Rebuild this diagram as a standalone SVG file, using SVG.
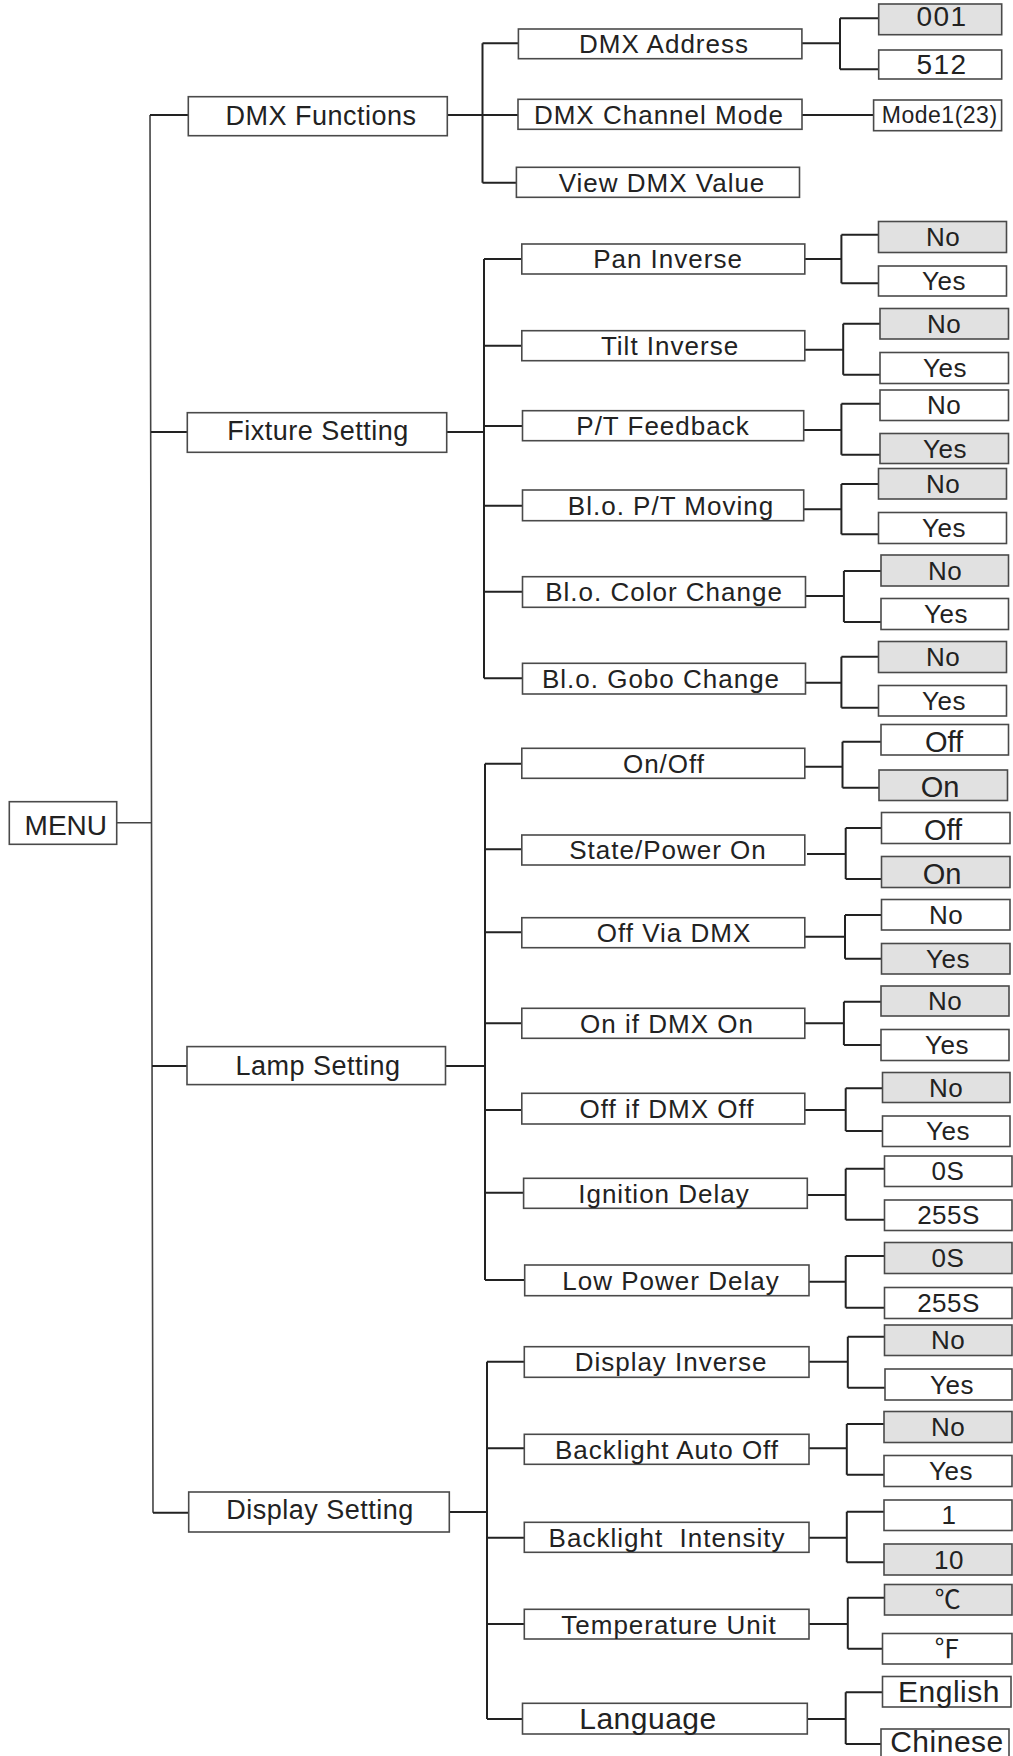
<svg xmlns="http://www.w3.org/2000/svg" width="1013" height="1756" viewBox="0 0 1013 1756">
<style>
.b{fill:#fff;stroke:#4a4a4a;stroke-width:1.6}
.s{fill:#e1e1e1}
.c{fill:none;stroke:#222;stroke-width:2}
.m{fill:none;stroke:#444;stroke-width:1.6}
text{font-family:"Liberation Sans",Arial,"Noto Sans CJK SC",sans-serif;fill:#222;text-anchor:middle}
.t1{font-size:28px}
.t2{font-size:27px;letter-spacing:0.5px}
.t3{font-size:26px;letter-spacing:1px}
.v{font-size:26px;letter-spacing:0.5px}
.vb{font-size:29px}
.vl{font-size:30px;letter-spacing:0.5px}
</style>
<rect width="1013" height="1756" fill="#fff"/>
<g id="connectors">
<path class="m" d="M150,115 L153,1512.7 M117,822.7 H151.5"/>
<path class="c" d="M150,115 H188.3 M447.3,115 H482.5 M482.5,43.3 V182.7 M482.5,43.3 H518.4 M482.5,115 H518 M482.5,182.7 H516.4"/>
<path class="c" d="M151,432 H187.3 M446.7,432 H484 M484,259 V678.3 M484,259 H521.8 M484,345.7 H521.8 M484,426 H522.5 M484,505.7 H522.5 M484,591.7 H522.5 M484,678.3 H522.5"/>
<path class="c" d="M152,1066 H187 M445.5,1066 H485 M485,763.7 V1280 M485,763.7 H521.8 M485,849.3 H521.8 M485,932.3 H521.8 M485,1023.3 H521.8 M485,1110 H521.8 M485,1192.7 H523.6 M485,1280 H524.7"/>
<path class="c" d="M153,1512.7 H188.7 M449.3,1512 H487 M487,1361.7 V1719 M487,1361.7 H524.3 M487,1448.3 H524.3 M487,1537.7 H524.3 M487,1624 H524.3 M487,1719 H522.5"/>
<path class="c" d="M802,43.3 H840 M840,18.3 V69.3 M840,18.3 H878.7 M840,69.3 H878.7 M802,115 H873.6"/>
<path class="c" d="M805,259 H841.4 M841.4,234.7 V283.3 M841.4,234.7 H878.5 M841.4,283.3 H878.5"/>
<path class="c" d="M805,349.7 H843.2 M843.2,323.7 V374.7 M843.2,323.7 H880 M843.2,374.7 H880"/>
<path class="c" d="M804,430 H841.4 M841.4,403.7 V454.7 M841.4,403.7 H880 M841.4,454.7 H880"/>
<path class="c" d="M804,509.3 H841.4 M841.4,484 V534.3 M841.4,484 H878.5 M841.4,534.3 H878.5"/>
<path class="c" d="M805.5,596 H843.9 M843.9,571 V622 M843.9,571 H881 M843.9,622 H881"/>
<path class="c" d="M805.5,682.7 H841.4 M841.4,656.7 V707.7 M841.4,656.7 H878.5 M841.4,707.7 H878.5"/>
<path class="c" d="M805,766.7 H842.5 M842.5,741.7 V787.7 M842.5,741.7 H881 M842.5,787.7 H879"/>
<path class="c" d="M807,854 H845.7 M845.7,828 V879 M845.7,828 H881.5 M845.7,879 H881.5"/>
<path class="c" d="M805,936.7 H845 M845,915 V958.7 M845,915 H881.5 M845,958.7 H881.5"/>
<path class="c" d="M805,1023.3 H843.9 M843.9,1001.7 V1045 M843.9,1001.7 H881 M843.9,1045 H881"/>
<path class="c" d="M805,1110 H845.7 M845.7,1088.3 V1131 M845.7,1088.3 H882.5 M845.7,1131 H882.5"/>
<path class="c" d="M807.3,1195 H845.7 M845.7,1168.7 V1219.7 M845.7,1168.7 H884.5 M845.7,1219.7 H884.5"/>
<path class="c" d="M809,1281.7 H845.7 M845.7,1256 V1307.7 M845.7,1256 H884.5 M845.7,1307.7 H884.5"/>
<path class="c" d="M809,1361.7 H847.8 M847.8,1336.7 V1387.7 M847.8,1336.7 H884.5 M847.8,1387.7 H885"/>
<path class="c" d="M809,1448.3 H846.8 M846.8,1424 V1474.7 M846.8,1424 H884 M846.8,1474.7 H884"/>
<path class="c" d="M809,1537.7 H846.8 M846.8,1511.7 V1562.3 M846.8,1511.7 H884 M846.8,1562.3 H884"/>
<path class="c" d="M809,1624 H847.8 M847.8,1597.7 V1648.7 M847.8,1597.7 H884.5 M847.8,1648.7 H882.5"/>
<path class="c" d="M807.3,1719 H845.7 M845.7,1692.3 V1744 M845.7,1692.3 H882.5 M845.7,1744 H881"/>
</g>
<g id="menu"><rect class="b" x="9.3" y="801.7" width="107.4" height="42.6"/><text class="t1" x="65.8" y="835">MENU</text></g>
<g id="dmx-functions"><rect class="b" x="188.3" y="96.7" width="259" height="39"/><text class="t2" x="321" y="125.3">DMX Functions</text></g>
<g id="fixture-setting"><rect class="b" x="187.3" y="412.7" width="259.4" height="39.6"/><text class="t2" x="318" y="440">Fixture Setting</text></g>
<g id="lamp-setting"><rect class="b" x="187" y="1046.6" width="258.5" height="38"/><text class="t2" x="318" y="1075">Lamp Setting</text></g>
<g id="display-setting"><rect class="b" x="188.7" y="1492" width="260.6" height="40"/><text class="t2" x="320" y="1519">Display Setting</text></g>

<g id="dmx-address"><rect class="b" x="518.4" y="29" width="283.5" height="29.7"/><text class="t3" x="664" y="53.2">DMX Address</text></g>
<g id="dmx-channel-mode"><rect class="b" x="518" y="99.3" width="284" height="30"/><text class="t3" x="659" y="123.6">DMX Channel Mode</text></g>
<g id="view-dmx-value"><rect class="b" x="516.4" y="167.3" width="283.1" height="30"/><text class="t3" x="662" y="191.6">View DMX Value</text></g>
<g id="pan-inverse"><rect class="b" x="521.8" y="244" width="283" height="30"/><text class="t3" x="668" y="268.3">Pan Inverse</text></g>
<g id="tilt-inverse"><rect class="b" x="521.8" y="330.7" width="283" height="30"/><text class="t3" x="670" y="355">Tilt Inverse</text></g>
<g id="pt-feedback"><rect class="b" x="522.5" y="410.7" width="281.2" height="30"/><text class="t3" x="663" y="435">P/T Feedback</text></g>
<g id="blo-pt-moving"><rect class="b" x="522.5" y="490" width="281.2" height="30.7"/><text class="t3" x="671" y="514.6">Bl.o. P/T Moving</text></g>
<g id="blo-color-change"><rect class="b" x="522.5" y="576.7" width="283" height="30.6"/><text class="t3" x="664" y="601.3">Bl.o. Color Change</text></g>
<g id="blo-gobo-change"><rect class="b" x="522.5" y="663.3" width="283" height="30.7"/><text class="t3" x="661" y="688">Bl.o. Gobo Change</text></g>
<g id="on-off"><rect class="b" x="521.8" y="748.3" width="283" height="30"/><text class="t3" x="664" y="772.6">On/Off</text></g>
<g id="state-power-on"><rect class="b" x="521.8" y="835" width="283" height="30"/><text class="t3" x="668" y="859.3">State/Power On</text></g>
<g id="off-via-dmx"><rect class="b" x="521.8" y="917.7" width="283" height="30"/><text class="t3" x="674" y="942">Off Via DMX</text></g>
<g id="on-if-dmx-on"><rect class="b" x="521.8" y="1008.3" width="283" height="30"/><text class="t3" x="667" y="1032.6">On if DMX On</text></g>
<g id="off-if-dmx-off"><rect class="b" x="521.8" y="1093.3" width="283" height="30.7"/><text class="t3" x="667" y="1118">Off if DMX Off</text></g>
<g id="ignition-delay"><rect class="b" x="523.6" y="1178.3" width="283.7" height="30"/><text class="t3" x="664" y="1202.6">Ignition Delay</text></g>
<g id="low-power-delay"><rect class="b" x="524.7" y="1265" width="284.3" height="30.7"/><text class="t3" x="671" y="1289.6">Low Power Delay</text></g>
<g id="display-inverse"><rect class="b" x="524.3" y="1346.7" width="284.7" height="30.6"/><text class="t3" x="671" y="1371.3">Display Inverse</text></g>
<g id="backlight-auto-off"><rect class="b" x="524.3" y="1434.3" width="284.7" height="30"/><text class="t3" x="667" y="1458.6">Backlight Auto Off</text></g>
<g id="backlight-intensity"><rect class="b" x="524.3" y="1522.3" width="284.7" height="30"/><text class="t3" x="667" y="1546.6" xml:space="preserve">Backlight  Intensity</text></g>
<g id="temperature-unit"><rect class="b" x="524.3" y="1609.3" width="284.7" height="29.7"/><text class="t3" x="669" y="1633.5">Temperature Unit</text></g>
<g id="language"><rect class="b" x="522.5" y="1703.3" width="284.8" height="30.7"/><text class="vl" x="648" y="1728.5">Language</text></g>

<g id="addr-001"><rect class="b s" x="878.7" y="4" width="123" height="30.7"/><text class="t1" x="942" y="26" style="letter-spacing:1.5px">001</text></g>
<g id="addr-512"><rect class="b" x="878.7" y="50" width="123" height="29"/><text class="t1" x="942" y="74" style="letter-spacing:1.5px">512</text></g>
<g id="mode1"><rect class="b" x="873.6" y="100" width="128" height="30.7"/><text x="939.7" y="123" style="font-size:23px;letter-spacing:0.5px">Mode1(23)</text></g>

<g id="pan-no"><rect class="b s" x="878.5" y="221.5" width="128" height="31"/><text class="v" x="943" y="246">No</text></g>
<g id="pan-yes"><rect class="b" x="878.5" y="266" width="128" height="30"/><text class="v" x="944" y="290">Yes</text></g>
<g id="tilt-no"><rect class="b s" x="880" y="308.5" width="128.5" height="30.5"/><text class="v" x="944" y="332.7">No</text></g>
<g id="tilt-yes"><rect class="b" x="880" y="352.5" width="128.5" height="31"/><text class="v" x="945" y="377">Yes</text></g>
<g id="pt-no"><rect class="b" x="880" y="390" width="128.5" height="30.5"/><text class="v" x="944" y="414">No</text></g>
<g id="pt-yes"><rect class="b s" x="880" y="433.5" width="128.5" height="30"/><text class="v" x="945" y="457.5">Yes</text></g>
<g id="moving-no"><rect class="b s" x="878.5" y="468.5" width="128" height="30.5"/><text class="v" x="943" y="492.7">No</text></g>
<g id="moving-yes"><rect class="b" x="878.5" y="512.5" width="128" height="31"/><text class="v" x="944" y="537">Yes</text></g>
<g id="color-no"><rect class="b s" x="881" y="555" width="127.5" height="31"/><text class="v" x="945" y="579.5">No</text></g>
<g id="color-yes"><rect class="b" x="881" y="598.5" width="127.5" height="31"/><text class="v" x="946" y="623">Yes</text></g>
<g id="gobo-no"><rect class="b s" x="878.5" y="641.5" width="128" height="31"/><text class="v" x="943" y="666">No</text></g>
<g id="gobo-yes"><rect class="b" x="878.5" y="685.5" width="128" height="30.5"/><text class="v" x="944" y="709.7">Yes</text></g>
<g id="onoff-off"><rect class="b" x="881" y="724.5" width="127.5" height="30.5"/><text class="vb" x="944" y="751.7">Off</text></g>
<g id="onoff-on"><rect class="b s" x="879" y="770" width="128.5" height="30.5"/><text class="vb" x="940" y="797.3">On</text></g>
<g id="state-off"><rect class="b" x="881.5" y="812.5" width="128.5" height="31"/><text class="vb" x="943" y="839.5">Off</text></g>
<g id="state-on"><rect class="b s" x="881.5" y="856.5" width="128.5" height="31"/><text class="vb" x="942" y="883.5">On</text></g>
<g id="offvia-no"><rect class="b" x="881.5" y="899.5" width="128.5" height="30.5"/><text class="v" x="946" y="923.7">No</text></g>
<g id="offvia-yes"><rect class="b s" x="881.5" y="943.5" width="128.5" height="30.5"/><text class="v" x="948" y="967.7">Yes</text></g>
<g id="onif-no"><rect class="b s" x="881" y="986" width="128" height="30"/><text class="v" x="945" y="1010">No</text></g>
<g id="onif-yes"><rect class="b" x="881" y="1029.5" width="128" height="31"/><text class="v" x="947" y="1054">Yes</text></g>
<g id="offif-no"><rect class="b s" x="882.5" y="1072.5" width="127.5" height="30"/><text class="v" x="946" y="1096.5">No</text></g>
<g id="offif-yes"><rect class="b" x="882.5" y="1116" width="127.5" height="30.5"/><text class="v" x="948" y="1140.2">Yes</text></g>
<g id="ign-0s"><rect class="b" x="884.5" y="1156" width="127.5" height="30.5"/><text class="v" x="948" y="1180.2">0S</text></g>
<g id="ign-255s"><rect class="b" x="884.5" y="1200" width="127.5" height="30.5"/><text class="v" x="948.5" y="1224.2">255S</text></g>
<g id="low-0s"><rect class="b s" x="884.5" y="1242.5" width="127.5" height="31"/><text class="v" x="948" y="1267">0S</text></g>
<g id="low-255s"><rect class="b" x="884.5" y="1287.5" width="127.5" height="31"/><text class="v" x="948.5" y="1312">255S</text></g>
<g id="dispinv-no"><rect class="b s" x="884.5" y="1325" width="127.5" height="30.5"/><text class="v" x="948" y="1349.2">No</text></g>
<g id="dispinv-yes"><rect class="b" x="885" y="1369" width="127" height="31"/><text class="v" x="952" y="1393.5">Yes</text></g>
<g id="bao-no"><rect class="b s" x="884" y="1411.5" width="128" height="31"/><text class="v" x="948" y="1436">No</text></g>
<g id="bao-yes"><rect class="b" x="884" y="1455.5" width="128" height="31"/><text class="v" x="951" y="1480">Yes</text></g>
<g id="bi-1"><rect class="b" x="884" y="1500" width="128" height="30.5"/><text class="v" x="949" y="1524.2">1</text></g>
<g id="bi-10"><rect class="b s" x="884" y="1544" width="128" height="31"/><text class="v" x="949" y="1568.5">10</text></g>
<g id="temp-c"><rect class="b s" x="884.5" y="1584.5" width="127.5" height="30.5"/><text class="v" x="948" y="1608.7">℃</text></g>
<g id="temp-f"><rect class="b" x="882.5" y="1633.5" width="129.5" height="30.5"/><text class="v" x="947" y="1657.7">℉</text></g>
<g id="lang-english"><rect class="b" x="882.5" y="1676.5" width="128.5" height="30.5"/><text class="vl" x="949" y="1702">English</text></g>
<g id="lang-chinese"><rect class="b" x="881" y="1729" width="128" height="40"/><text class="vl" x="947" y="1752">Chinese</text></g>
</svg>
